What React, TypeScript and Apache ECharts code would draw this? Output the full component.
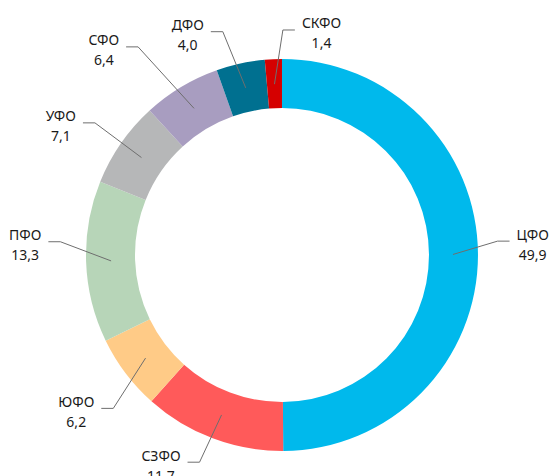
import React, { useEffect, useRef } from "react";
import * as echarts from "echarts";

const regions = ["ЦФО", "СЗФО", "ЮФО", "ПФО", "УФО", "СФО", "ДФО", "СКФО"];
const shares = [49.9, 11.7, 6.2, 13.3, 7.1, 6.4, 4.0, 1.4];
const colors = ["#00b9ec", "#ff5a5a", "#ffcb87", "#b7d5b8", "#b6b7b8", "#a89dc0", "#007090", "#d50000"];

// leader-line styling: angular turn of the elbow (deg) and elbow distance from centre (px)
const leaderStyle: Record<string, { turn: number; reach: number }> = {
  "ЦФО": { turn: -3.5, reach: 216 },
  "СЗФО": { turn: 1.0, reach: 223 },
  "ЮФО": { turn: -5.2, reach: 228 },
  "ПФО": { turn: 5.4, reach: 222 },
  "УФО": { turn: 0.5, reach: 229 },
  "СФО": { turn: -3.7, reach: 253 },
  "ДФО": { turn: -2.6, reach: 231 },
  "СКФО": { turn: 2.75, reach: 225 },
};

const RING_INNER = 147;
const RING_OUTER = 196;
const LEADER_START = 171;

const fmt = (v: number) => v.toFixed(1).replace(".", ",");

export default function App() {
  const ref = useRef<HTMLDivElement>(null);
  useEffect(() => {
    document.body.style.margin = "0";
    const chart = echarts.init(ref.current!, undefined, { renderer: "svg" });
    const data = regions.map((n, i) => ({ name: n, value: shares[i], itemStyle: { color: colors[i] } }));
    const center = ["51.27%", "53.57%"];
    chart.setOption({
      animation: false,
      backgroundColor: "#ffffff",
      series: [
        {
          type: "pie",
          center,
          radius: [RING_INNER, RING_OUTER],
          startAngle: 90,
          clockwise: true,
          silent: true,
          z: 1,
          label: { show: false },
          labelLine: { show: false },
          emphasis: { disabled: true },
          data,
        },
        {
          type: "pie",
          center,
          radius: [0, LEADER_START],
          startAngle: 90,
          clockwise: true,
          silent: true,
          z: 5,
          avoidLabelOverlap: false,
          emphasis: { disabled: true },
          itemStyle: { color: "rgba(0,0,0,0)", borderWidth: 0 },
          label: {
            show: true,
            position: "outside",
            color: "#1a1a1a",
            fontFamily: "Noto Sans",
            fontSize: 14,
            lineHeight: 20,
            formatter: (p: any) => `${p.name}\n${fmt(p.value)}`,
          },
          labelLine: {
            show: true,
            length: 50,
            length2: 12,
            lineStyle: { color: "#6e6e6e", width: 1 },
          },
          labelLayout: (p: any) => {
            const pts = p.labelLinePoints;
            if (!pts || pts.length < 3) return {};
            const s = pts[0], b = pts[1];
            const dx = b[0] - s[0], dy = b[1] - s[1];
            const len = Math.hypot(dx, dy) || 1;
            const ux = dx / len, uy = dy / len;
            const cx = s[0] - ux * LEADER_START;
            const cy = s[1] - uy * LEADER_START;
            const name = regions[p.dataIndex];
            const st = leaderStyle[name] || { turn: 0, reach: LEADER_START + 50 };
            const theta = Math.atan2(ux, -uy) + (st.turn * Math.PI) / 180;
            const bx = cx + st.reach * Math.sin(theta);
            const by = cy - st.reach * Math.cos(theta);
            const right = bx > cx;
            const ex = right ? bx + 12 : bx - 12;
            const newPts = [s, [bx, by], [ex, by]];
            const w = p.labelRect.width;
            const gap = 7;
            const x = right ? ex + gap + w / 2 : ex - gap - w / 2;
            return { x, y: by + 3, align: "center", verticalAlign: "middle", labelLinePoints: newPts };
          },
          data: regions.map((n, i) => ({ name: n, value: shares[i] })),
        },
      ],
    });
    return () => chart.dispose();
  }, []);
  return <div ref={ref} style={{ width: 550, height: 476 }} />;
}
